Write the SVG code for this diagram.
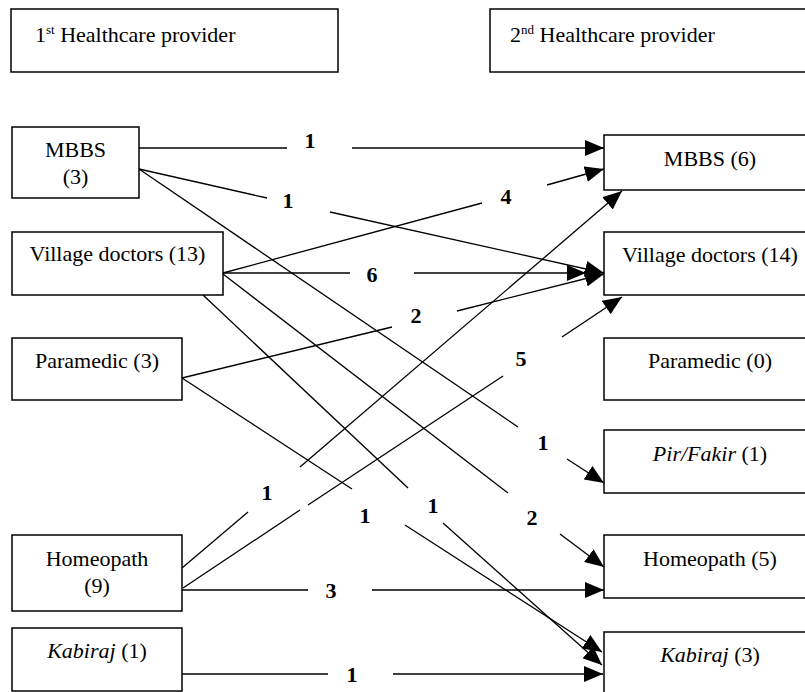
<svg xmlns="http://www.w3.org/2000/svg" width="805" height="692" viewBox="0 0 805 692">
<defs>
<style>
.box{fill:#fff;stroke:#000;stroke-width:1.5}
.t{font-family:"Liberation Serif","Times New Roman",serif;font-size:22px;fill:#000;text-anchor:middle}
.h{font-family:"Liberation Serif","Times New Roman",serif;font-size:22px;fill:#000}
.sup{font-size:13px}
.lbl{font-family:"Liberation Serif","Times New Roman",serif;font-size:22px;font-weight:bold;fill:#000;text-anchor:middle}
.c line{stroke:#000;stroke-width:1.3;fill:none}
.a{marker-end:url(#ah)}
</style>
<marker id="ah" markerWidth="19" markerHeight="16" refX="19" refY="8" orient="auto" markerUnits="userSpaceOnUse">
<path d="M0,0 L19,8 L0,16 z" fill="#000"/>
</marker>
</defs>
<rect width="805" height="692" fill="#fff"/>

<g id="header1">
<rect class="box" x="11" y="9" width="327" height="63"/>
<text class="h" x="35" y="42">1<tspan class="sup" dy="-8">st</tspan><tspan dy="8"> Healthcare provider</tspan></text>
</g>
<g id="header2">
<rect class="box" x="490" y="9" width="330" height="63"/>
<text class="h" x="510" y="42">2<tspan class="sup" dy="-8">nd</tspan><tspan dy="8"> Healthcare provider</tspan></text>
</g>

<g class="c" id="connectors">
<!-- MBBS(3) -> MBBS(6) : 1 -->
<line x1="139" y1="148" x2="287" y2="148"/>
<line class="a" x1="352" y1="148" x2="604" y2="148"/>
<!-- MBBS(3) -> Village doctors(14) : 1 -->
<line x1="139" y1="169" x2="267" y2="198"/>
<line class="a" x1="330" y1="212" x2="604" y2="273"/>
<!-- Village doctors(13) -> MBBS(6) : 4 -->
<line x1="223" y1="273" x2="482" y2="203"/>
<line class="a" x1="547" y1="185" x2="604" y2="169"/>
<!-- Village doctors(13) -> Village doctors(14) : 6 -->
<line x1="223" y1="273" x2="350" y2="273"/>
<line class="a" x1="414" y1="273" x2="586" y2="273"/>
<!-- Paramedic(3) -> Village doctors(14) : 2 -->
<line x1="182" y1="378" x2="392" y2="327"/>
<line class="a" x1="457" y1="311" x2="604" y2="274"/>
<!-- MBBS(3) -> Pir/Fakir(1) : 1 -->
<line x1="139" y1="169" x2="518" y2="427"/>
<line class="a" x1="567" y1="459" x2="604" y2="483"/>
<!-- Village doctors(13) -> Homeopath(5) : 2 -->
<line x1="223" y1="274" x2="508" y2="493"/>
<line class="a" x1="560" y1="534" x2="604" y2="567"/>
<!-- Village doctors(13) -> Kabiraj(3) : 1 -->
<line x1="203" y1="295" x2="408" y2="488"/>
<line class="a" x1="443" y1="523" x2="602" y2="665"/>
<!-- Paramedic(3) -> Kabiraj(3) : 1 -->
<line x1="182" y1="378" x2="352" y2="489"/>
<line class="a" x1="405" y1="525" x2="602" y2="652"/>
<!-- Homeopath(9) -> MBBS(6) : 1 -->
<line x1="182" y1="568" x2="248" y2="512"/>
<line class="a" x1="300" y1="467" x2="622" y2="191"/>
<!-- Homeopath(9) -> Village doctors(14) : 5 -->
<line x1="183" y1="588" x2="300" y2="510"/>
<line x1="308" y1="505" x2="503" y2="376"/>
<line class="a" x1="562" y1="337" x2="622" y2="297"/>
<!-- Homeopath(9) -> Homeopath(5) : 3 -->
<line x1="182" y1="590" x2="308" y2="590"/>
<line class="a" x1="372" y1="590" x2="604" y2="590"/>
<!-- Kabiraj(1) -> Kabiraj(3) : 1 -->
<line x1="182" y1="674" x2="328" y2="674"/>
<line class="a" x1="393" y1="674" x2="603" y2="674"/>
</g>

<g id="labels">
<text class="lbl" x="310" y="148">1</text>
<text class="lbl" x="288" y="208">1</text>
<text class="lbl" x="506" y="204">4</text>
<text class="lbl" x="372" y="282">6</text>
<text class="lbl" x="416" y="323">2</text>
<text class="lbl" x="521" y="366">5</text>
<text class="lbl" x="543" y="450">1</text>
<text class="lbl" x="267" y="500">1</text>
<text class="lbl" x="365" y="523">1</text>
<text class="lbl" x="433" y="513">1</text>
<text class="lbl" x="532" y="525">2</text>
<text class="lbl" x="331" y="598">3</text>
<text class="lbl" x="352" y="682">1</text>
</g>

<g id="l-mbbs">
<rect class="box" x="12" y="127" width="127" height="71"/>
<text class="t" x="75.5" y="157">MBBS</text>
<text class="t" x="75.5" y="184">(3)</text>
</g>
<g id="l-village">
<rect class="box" x="12" y="232" width="211" height="63"/>
<text class="t" x="117.5" y="261">Village doctors (13)</text>
</g>
<g id="l-paramedic">
<rect class="box" x="12" y="338" width="170" height="62"/>
<text class="t" x="97" y="368">Paramedic (3)</text>
</g>
<g id="l-homeopath">
<rect class="box" x="12" y="535" width="170" height="76"/>
<text class="t" x="97" y="566">Homeopath</text>
<text class="t" x="97" y="593">(9)</text>
</g>
<g id="l-kabiraj">
<rect class="box" x="12" y="628" width="170" height="63"/>
<text class="t" x="97" y="658"><tspan font-style="italic">Kabiraj</tspan> (1)</text>
</g>

<g id="r-mbbs">
<rect class="box" x="604" y="135" width="215" height="55"/>
<text class="t" x="710" y="166">MBBS (6)</text>
</g>
<g id="r-village">
<rect class="box" x="604" y="232" width="215" height="63"/>
<text class="t" x="710" y="262">Village doctors (14)</text>
</g>
<g id="r-paramedic">
<rect class="box" x="604" y="338" width="215" height="62"/>
<text class="t" x="710" y="368">Paramedic (0)</text>
</g>
<g id="r-pirfakir">
<rect class="box" x="604" y="430" width="215" height="63"/>
<text class="t" x="710" y="461"><tspan font-style="italic">Pir/Fakir</tspan> (1)</text>
</g>
<g id="r-homeopath">
<rect class="box" x="604" y="535" width="215" height="63"/>
<text class="t" x="710" y="566">Homeopath (5)</text>
</g>
<g id="r-kabiraj">
<rect class="box" x="604" y="632" width="215" height="70"/>
<text class="t" x="710" y="662"><tspan font-style="italic">Kabiraj</tspan> (3)</text>
</g>
</svg>
